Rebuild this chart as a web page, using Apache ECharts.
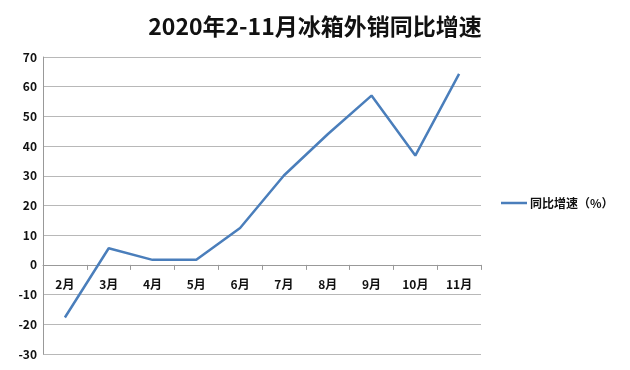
<!DOCTYPE html>
<html><head><meta charset="utf-8">
<script src="https://cdn.jsdelivr.net/npm/echarts@6/dist/echarts.min.js"></script>
<style>html,body{margin:0;padding:0;background:#fff}#c{width:630px;height:370px}</style>
</head><body><div id="c"></div>
<script>
const titleText = '2020年2-11月冰箱外销同比增速';
const seriesName = '同比增速（%）';
const categories = ['2月','3月','4月','5月','6月','7月','8月','9月','10月','11月'];
const values = [-17.7, 5.6, 1.7, 1.7, 12.4, 30.1, 44.0, 57.0, 36.8, 64.3];
const yMin = -30, yMax = 70, yStep = 10;

const gridTop = 57, gridBottom = 16, H = 370;
const plotH = H - gridTop - gridBottom;
const zeroOffset = -plotH * (0 - yMin) / (yMax - yMin);

const chart = echarts.init(document.getElementById('c'));
const font = '"Noto Sans CJK SC", "Liberation Sans", sans-serif';
chart.setOption({
  animation: false,
  backgroundColor: '#fff',
  title: {
    text: titleText, left: 'center', top: 10,
    textStyle: {fontFamily: font, fontSize: 23, fontWeight: 'bold', color: '#111'}
  },
  legend: {
    data: [{name: seriesName, icon: 'rect'}],
    orient: 'vertical', left: 501, top: 197, padding: 0,
    itemWidth: 26, itemHeight: 2.5, itemGap: 5,
    textStyle: {fontFamily: font, fontSize: 12, fontWeight: 'bold', color: '#111', padding: [0,0,0,-2]}
  },
  grid: {left: 43, right: 149, top: gridTop, bottom: gridBottom, containLabel: false, outerBoundsMode: 'none'},
  xAxis: {
    type: 'category', data: categories, boundaryGap: true,
    offset: zeroOffset,
    axisLine: {onZero: false, lineStyle: {color: '#999', width: 1}},
    axisTick: {show: true, alignWithLabel: false, length: 5, lineStyle: {color: '#999'}},
    axisLabel: {margin: 14, fontFamily: font, fontSize: 12, fontWeight: 'bold', color: '#111'},
    splitLine: {show: false}
  },
  yAxis: {
    type: 'value', min: yMin, max: yMax, interval: yStep,
    axisLine: {show: true, lineStyle: {color: '#999', width: 1}},
    axisTick: {show: false},
    axisLabel: {margin: 6, fontFamily: font, fontSize: 12, fontWeight: 'bold', color: '#111'},
    splitLine: {show: true, lineStyle: {color: '#b8b8b8', width: 1}}
  },
  series: [{
    name: seriesName, type: 'line', data: values,
    symbol: 'none', smooth: false,
    lineStyle: {color: '#4a7ebb', width: 2.5},
    itemStyle: {color: '#4a7ebb'}
  }]
});
</script></body></html>
